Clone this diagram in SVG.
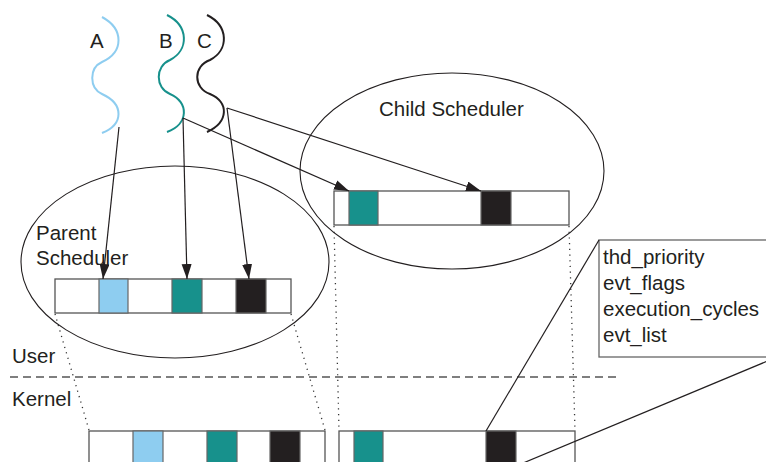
<svg xmlns="http://www.w3.org/2000/svg" width="766" height="462" viewBox="0 0 766 462">
<defs>
<style>
text{font-family:"Liberation Sans",Arial,sans-serif;font-size:20.5px;fill:#231f20}
.ell{fill:none;stroke:#231f20;stroke-width:1.1}
.bar{fill:#fff;stroke:#555;stroke-width:1.3}
.cell{stroke:#666;stroke-width:1.2}
.lb{fill:#8ecdf0}
.tl{fill:#17918c}
.bk{fill:#231f20}
.ln{fill:none;stroke:#231f20;stroke-width:1.2}
.arr{fill:none;stroke:#231f20;stroke-width:1.2;marker-end:url(#ah)}
.dot{fill:none;stroke:#333;stroke-width:1.3;stroke-dasharray:1.2 4.5}
.sq{fill:none;stroke-width:2}
</style>
<marker id="ah" markerUnits="userSpaceOnUse" markerWidth="16" markerHeight="12" refX="15" refY="5" orient="auto">
<path d="M0,0 L15,5 L0,10 z" fill="#231f20"/>
</marker>
</defs>
<rect width="766" height="462" fill="#fff"/>

<g id="thread-A">
<path class="sq" stroke="#8ecdf0" d="M102,17 C124,29 124,52 102,62 C89,68 89,88 102,94 C124,104 124,124 102,133"/>
<text x="90" y="48">A</text>
</g>
<g id="thread-B">
<path class="sq" stroke="#17918c" d="M167,15 C189,26 189,50 170,60 C155,66 155,88 170,94 C189,102 189,124 167,132"/>
<text x="159" y="48">B</text>
</g>
<g id="thread-C">
<path class="sq" stroke="#231f20" d="M207,15 C229,26 229,50 210,60 C193,66 193,88 210,94 C229,102 229,122 207,132"/>
<text x="197" y="48">C</text>
</g>

<g id="child-scheduler">
<ellipse class="ell" cx="452" cy="171" rx="152" ry="98"/>
<text x="379" y="116">Child Scheduler</text>
<rect class="bar" x="334" y="191" width="235" height="34"/>
<rect class="cell tl" x="349" y="191" width="29" height="34"/>
<rect class="cell bk" x="481" y="191" width="30" height="34"/>
</g>

<g id="parent-scheduler">
<ellipse class="ell" cx="175" cy="262" rx="154" ry="96"/>
<text x="36" y="240">Parent</text>
<text x="36" y="265">Scheduler</text>
<rect class="bar" x="55" y="279" width="236" height="34"/>
<rect class="cell lb" x="99" y="279" width="29" height="34"/>
<rect class="cell tl" x="172" y="279" width="30" height="34"/>
<rect class="cell bk" x="236" y="279" width="30" height="34"/>
</g>

<g id="boundary">
<line x1="10" y1="377" x2="618" y2="377" stroke="#555" stroke-width="1.3" stroke-dasharray="8 5"/>
<text x="12" y="363">User</text>
<text x="12" y="406">Kernel</text>
</g>

<g id="kernel-parent-bar">
<rect class="bar" x="89" y="431" width="236" height="40"/>
<rect class="cell lb" x="133" y="431" width="30" height="40"/>
<rect class="cell tl" x="207" y="431" width="30" height="40"/>
<rect class="cell bk" x="270" y="431" width="30" height="40"/>
</g>

<g id="kernel-child-bar">
<rect class="bar" x="339" y="431" width="236" height="40"/>
<rect class="cell tl" x="354" y="431" width="29" height="40"/>
<rect class="cell bk" x="486" y="431" width="30" height="40"/>
</g>

<g id="thread-info">
<rect x="599" y="240" width="180" height="117" fill="#fff" stroke="#666" stroke-width="1.3"/>
<text x="603" y="264">thd_priority</text>
<text x="603" y="290">evt_flags</text>
<text x="603" y="316">execution_cycles</text>
<text x="603" y="342">evt_list</text>
</g>

<g id="connectors">
<line class="arr" x1="119" y1="127" x2="103" y2="279"/>
<line class="arr" x1="183" y1="118" x2="187" y2="279"/>
<line class="arr" x1="227" y1="108" x2="249" y2="279"/>
<line class="arr" x1="183" y1="118" x2="349" y2="191"/>
<line class="arr" x1="227" y1="108" x2="481" y2="191"/>
<line class="dot" x1="55" y1="314" x2="89" y2="430"/>
<line class="dot" x1="291" y1="314" x2="325" y2="430"/>
<line class="dot" x1="334" y1="226" x2="339" y2="430"/>
<line class="dot" x1="569" y1="226" x2="575" y2="430"/>
<line class="ln" x1="599" y1="240" x2="486" y2="431"/>
<line class="ln" x1="770" y1="360" x2="516" y2="466"/>
</g>
</svg>
